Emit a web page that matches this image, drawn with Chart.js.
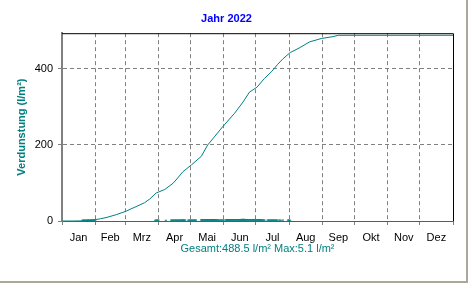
<!DOCTYPE html>
<html>
<head>
<meta charset="utf-8">
<script src="https://cdn.jsdelivr.net/npm/chart.js@4/dist/chart.umd.min.js"></script>
<style>
  html, body { margin: 0; padding: 0; background: #fff; }
  #wrap { width: 466px; height: 281px; border-right: 2px solid #aca899; border-bottom: 2px solid #aca899; }
</style>
</head>
<body>
<div id="wrap"><canvas id="evapChart" width="466" height="281"></canvas></div>
<script>
// Monatsnamen und Grenzen (Tag im Jahr)
const months = ['Jan', 'Feb', 'Mrz', 'Apr', 'Mai', 'Jun', 'Jul', 'Aug', 'Sep', 'Okt', 'Nov', 'Dez'];
const monthStarts = [0, 31, 59, 90, 120, 151, 181, 212, 243, 273, 304, 334, 365];
const yTicks = [0, 200, 400];

// Summenkurve (Tag, l/m²)
const sumDays = [0, 10, 19, 25, 31, 36, 42, 51, 60, 70, 77, 82, 88, 90, 96, 104, 113, 121, 130, 136,
  141, 150, 161, 169, 175, 182, 189, 196, 201, 206, 213, 222, 231, 242, 253, 258, 365];
const sumValues = [0, 0, 0.3, 1.8, 3.5, 6, 9.6, 17, 26, 39, 48, 58, 74, 76, 83, 100, 130, 148, 170, 200,
  217, 248, 283, 313, 339, 352, 375, 394, 411, 426, 443, 456, 471, 480, 485, 488.5, 488.5];

// Tageswerte (Tag, l/m²)
const barDays = [19, 20, 21, 22, 23, 24, 25, 26, 27, 28, 29, 30, 31,
  87, 88, 89, 90, 97,
  102, 103, 104, 105, 106, 107, 108, 109, 110, 111, 112, 113, 114, 115,
  118, 119, 120, 121, 122, 123, 124, 125,
  130, 131, 132, 133, 134, 135, 136, 137, 138, 139, 140, 141, 142, 143, 144, 145, 146, 147, 148, 149, 150, 151,
  153, 154, 155, 156, 157, 158, 159, 160, 161, 162, 163, 164, 165, 166, 167, 168, 169, 170, 171, 172, 173,
  174, 175, 176, 177, 178, 179, 180, 181, 182, 183, 184, 185, 186, 187, 188, 189,
  192, 193, 194, 195, 196, 197, 198, 199, 200, 201, 203, 204, 206, 211, 212, 213, 214];
const barValues = [2.6, 2.8, 3.0, 2.7, 2.9, 3.1, 2.8, 2.7, 3.0, 2.9, 2.6, 2.8, 3.0,
  2.7, 3.1, 2.9, 2.8, 2.7,
  2.9, 3.2, 3.0, 2.8, 3.4, 3.1, 2.9, 3.3, 3.0, 2.8, 3.2, 3.5, 3.1, 2.9,
  3.0, 3.3, 2.9, 3.1, 3.4, 3.0, 2.8, 3.2,
  3.6, 4.1, 3.8, 4.4, 3.9, 4.2, 4.6, 3.7, 4.0, 4.3, 3.9, 4.1, 3.6, 4.5, 3.8, 4.0, 3.2, 3.0, 3.4, 3.1, 3.3, 2.9,
  3.8, 4.2, 4.0, 4.4, 3.9, 4.6, 4.1, 4.3, 3.8, 4.5, 4.2, 4.0, 4.7, 4.4, 4.1, 4.8, 4.5, 5.1, 4.6, 4.2, 4.4,
  4.0, 4.3, 3.9, 4.1, 3.7, 4.2, 3.8, 4.0, 3.6, 3.9, 4.1, 3.7, 3.5, 3.8, 3.4,
  3.0, 3.2, 2.9, 3.1, 3.3, 2.8, 3.0, 3.2, 2.9, 3.1, 2.8, 2.9, 2.7, 2.8, 3.0, 2.9, 2.7];

const gesamt = 'Gesamt:488.5 l/m² Max:5.1 l/m²';
const teal = '#008080';
const gray = '#808080';
const font = 'Arial, "Liberation Sans", sans-serif';

// Rahmen oben und rechts
const framePlugin = {
  id: 'frame',
  afterDatasetsDraw(chart) {
    const { ctx, chartArea: a } = chart;
    ctx.save();
    ctx.strokeStyle = '#000';
    ctx.lineWidth = 1;
    ctx.beginPath();
    ctx.moveTo(a.left, a.top + 0.5);
    ctx.lineTo(a.right + 0.5, a.top + 0.5);
    ctx.lineTo(a.right + 0.5, a.bottom);
    ctx.stroke();
    ctx.restore();
  }
};

const hideEdge = (c) => (c.tick && (c.tick.value === 0 || c.tick.value === 365)) ? 'rgba(0,0,0,0)' : gray;

const chartCtx = document.getElementById('evapChart').getContext('2d');
const evapChart = new Chart(chartCtx, {
  data: {
    datasets: [{
      type: 'line',
      data: sumDays.map((d, i) => ({ x: d, y: sumValues[i] })),
      borderColor: teal,
      borderWidth: 1,
      pointRadius: 0,
      tension: 0,
      xAxisID: 'x',
      yAxisID: 'y'
    }, {
      type: 'bar',
      data: barDays.map((d, i) => ({ x: d, y: barValues[i] })),
      backgroundColor: teal,
      barThickness: 1.6,
      xAxisID: 'x',
      yAxisID: 'y'
    }]
  },
  options: {
    responsive: false,
    animation: false,
    devicePixelRatio: 1,
    layout: { padding: { left: 0, right: 13, top: 0, bottom: 0 } },
    plugins: {
      legend: { display: false },
      tooltip: { enabled: false },
      title: {
        display: true,
        text: 'Jahr 2022',
        color: '#0000ff',
        font: { family: font, size: 11, weight: 'bold' },
        padding: { top: 12, bottom: 8 }
      }
    },
    scales: {
      x: {
        type: 'linear',
        position: 'bottom',
        min: 0,
        max: 365,
        offset: false,
        weight: 0,
        afterBuildTicks: (s) => { s.ticks = monthStarts.map(v => ({ value: v })); },
        afterFit: (s) => { s.height = 0; },
        ticks: { display: false },
        grid: { offset: false, color: hideEdge, tickColor: gray, tickLength: 4, tickBorderDash: [] },
        border: { color: teal, width: 1, dash: [4, 3] }
      },
      xl: {
        type: 'linear',
        position: 'bottom',
        min: 0,
        max: 365,
        offset: false,
        weight: 1,
        afterBuildTicks: (s) => {
          s.ticks = months.map((m, i) => ({ value: (monthStarts[i] + monthStarts[i + 1]) / 2 }));
        },
        afterFit: (s) => { s.height = 60; },
        ticks: {
          padding: 10,
          color: '#000',
          font: { family: font, size: 11 },
          maxRotation: 0,
          autoSkip: false,
          callback: (v, i) => months[i]
        },
        grid: { display: false, drawTicks: false, offset: false },
        border: { display: false },
        title: {
          display: true,
          text: gesamt,
          color: teal,
          font: { family: font, size: 11 },
          padding: { top: 0, bottom: 25 }
        }
      },
      y: {
        min: 0,
        max: 494,
        afterBuildTicks: (s) => { s.ticks = yTicks.map(v => ({ value: v })); },
        afterFit: (s) => { s.width = 62; },
        ticks: { padding: 5, color: '#000', font: { family: font, size: 11 } },
        grid: {
          color: (c) => (c.tick && c.tick.value === 0) ? 'rgba(0,0,0,0)' : gray,
          tickColor: gray, tickLength: 4, tickBorderDash: []
        },
        border: { color: gray, width: 2, dash: [4, 3] },
        title: {
          display: true,
          text: 'Verdunstung (l/m²)',
          color: teal,
          font: { family: font, size: 11, weight: 'bold' },
          padding: { top: 15, bottom: 0 }
        }
      }
    }
  },
  plugins: [framePlugin]
});
</script>
</body>
</html>
